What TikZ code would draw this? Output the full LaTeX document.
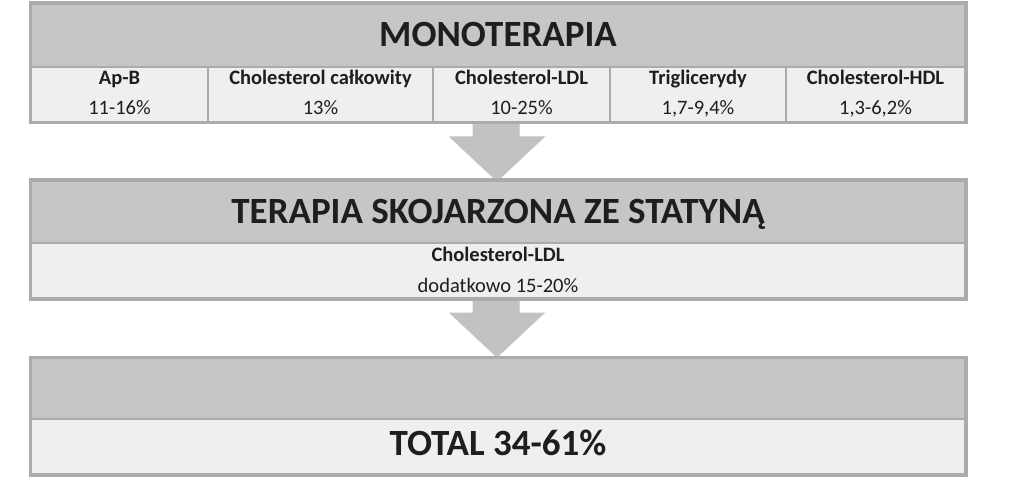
\documentclass[tikz,border=0pt]{standalone}
\usepackage{fontspec}
\setmainfont{Carlito}
\usetikzlibrary{calc}
\definecolor{hdr}{HTML}{C6C6C6}
\definecolor{cellfill}{HTML}{EFEFEF}
\definecolor{edge}{HTML}{ABABAB}
\definecolor{ink}{HTML}{1E1E1E}
\definecolor{arrowfill}{HTML}{C2C2C2}
\tikzset{
  hdrbox/.style={draw=edge, line width=2pt, fill=hdr, anchor=north west, inner sep=0pt,
    text=ink, font=\bfseries\fontsize{37}{42}\selectfont},
  cellbox/.style={draw=edge, line width=2pt, fill=cellfill, anchor=north west, inner sep=0pt, text=ink},
  frame/.style={draw=edge, line width=3pt},
  flow/.style={fill=arrowfill, draw=edge!70!white, line width=1pt, line join=miter},
  lbl/.style={font=\bfseries\fontsize{20.5}{24}\selectfont, text=ink, inner sep=0pt, anchor=base},
  val/.style={font=\fontsize{20.5}{24}\selectfont, text=ink, inner sep=0pt, anchor=base},
  bigtext/.style={font=\bfseries\fontsize{37}{42}\selectfont, text=ink, inner sep=0pt, anchor=base},
}
\begin{document}
\begin{tikzpicture}[x=1pt,y=-1pt]
\useasboundingbox (0,0) rectangle (1024,494);

% arrows (drawn first)
\coordinate (a1top) at (497,121);
\coordinate (a1tip) at (497,181);
\coordinate (a2top) at (497,297);
\coordinate (a2tip) at (497,357);
\foreach \t/\p in {a1top/a1tip, a2top/a2tip}{
  \draw[flow] ($(\t)+(-24,0)$) -- ($(\t)+(22,0)$) -- ($(\t)+(22,16)$) -- ($(\t)+(47,16)$)
    -- (\p) -- ($(\t)+(-47,16)$) -- ($(\t)+(-24,16)$) -- cycle;
}

% box 1
\node[hdrbox, minimum width=934pt, minimum height=63pt] (h1) at (30,3) {};
\node[bigtext] (h1t) at ($(h1.north)+(0,44)$) {MONOTERAPIA};
\node[cellbox, minimum width=177pt, minimum height=55pt] (c1) at (30,66) {};
\node[cellbox, minimum width=225pt, minimum height=55pt] (c2) at (207,66) {};
\node[cellbox, minimum width=177pt, minimum height=55pt] (c3) at (432,66) {};
\node[cellbox, minimum width=176pt, minimum height=55pt] (c4) at (609,66) {};
\node[cellbox, minimum width=179pt, minimum height=55pt] (c5) at (785,66) {};
\foreach \c/\l/\v in {c1/Ap-B/11-16\%, c2/Cholesterol całkowity/13\%, c3/Cholesterol-LDL/10-25\%,
                      c4/Triglicerydy/1{,}7-9{,}4\%, c5/Cholesterol-HDL/1{,}3-6{,}2\%}{
  \node[lbl] (\c l) at ($(\c.north)+(0,19)$) {\l};
  \node[val] (\c v) at ($(\c.north)+(0,49)$) {\v};
}
\draw[frame] (h1.north west) rectangle (c5.south east);

% box 2
\node[hdrbox, minimum width=934pt, minimum height=62pt] (h2) at (30,180) {};
\node[bigtext] (h2t) at ($(h2.north)+(0,43)$) {TERAPIA SKOJARZONA ZE STATYNĄ};
\node[cellbox, minimum width=934pt, minimum height=55pt] (d2) at (30,242) {};
\node[lbl] (d2l) at ($(d2.north)+(0,19)$) {Cholesterol-LDL};
\node[val] (d2v) at ($(d2.north)+(0,50)$) {dodatkowo 15-20\%};
\draw[frame] (h2.north west) rectangle (d2.south east);

% box 3
\node[hdrbox, minimum width=934pt, minimum height=61pt] (h3) at (30,357) {};
\node[cellbox, minimum width=934pt, minimum height=55pt] (d3) at (30,418) {};
\node[bigtext] (d3t) at ($(d3.north)+(0,37)$) {TOTAL 34-61\%};
\draw[frame] (h3.north west) rectangle (d3.south east);
\end{tikzpicture}
\end{document}
